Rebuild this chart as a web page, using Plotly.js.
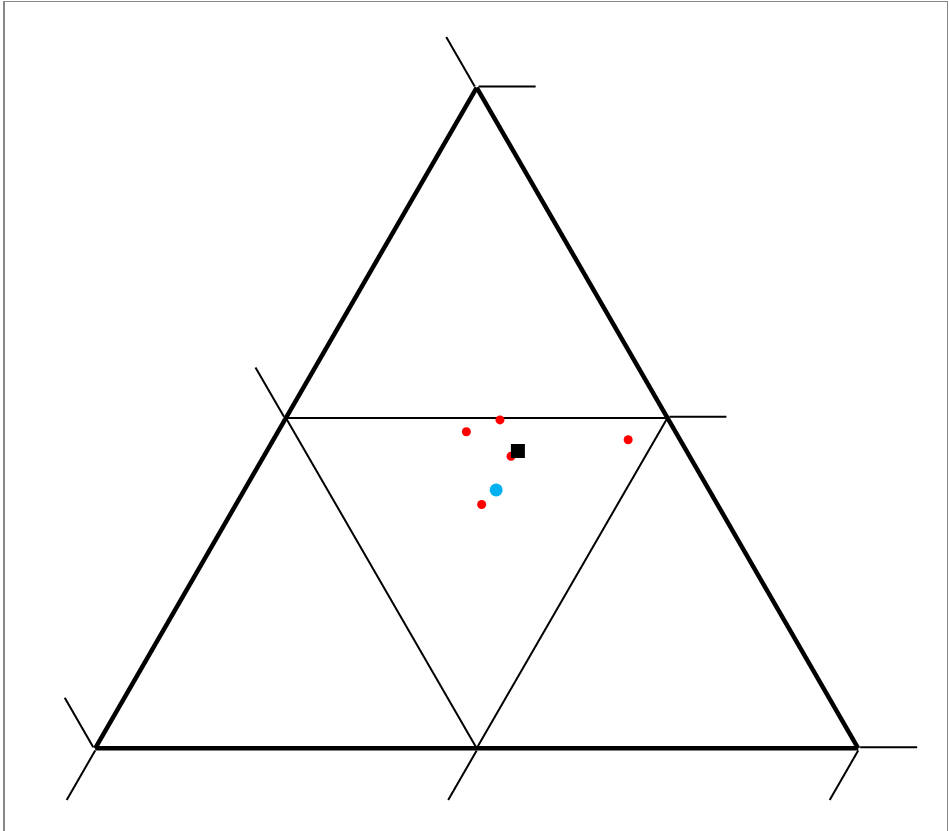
<!DOCTYPE html>
<html>
<head>
<meta charset="utf-8">
<script src="https://cdn.plot.ly/plotly-3.0.1.min.js"></script>
<style>
  body { margin: 0; background: #fff; }
  /* the reference has the tick "pinwheel" turning the other way round,
     so the ternary is drawn mirrored (b and c swapped in the data below) */
  #plot { position: absolute; left: 0; top: 0; width: 949px; height: 831px; transform: scaleX(-1); }
  #frame {
    position: absolute; left: 3px; top: 1px; width: 945px; height: 850px;
    box-sizing: border-box; pointer-events: none;
    border-left: 2px solid #888; border-top: 1px solid #888; border-right: 1px solid #888;
  }
</style>
</head>
<body>
<div id="plot"></div>
<div id="frame"></div>
<script>
// components: top, bottom-left, bottom-right corner as seen in the picture

// samples (red)
const sampleTop   = [0.479, 0.497, 0.467, 0.442, 0.369];
const sampleLeft  = [0.274, 0.221, 0.068, 0.234, 0.309];
const sampleRight = [0.247, 0.282, 0.465, 0.324, 0.322];

// mean point (black square)
const meanTop   = [0.450];
const meanLeft  = [0.221];
const meanRight = [0.329];

// reference point (blue)
const refTop   = [0.391];
const refLeft  = [0.279];
const refRight = [0.330];


function ternaryAxis() {
    return {
        min: 0,
        tick0: 0,
        dtick: 0.5,
        ticks: "outside",
        ticklen: 57,
        tickwidth: 2,
        tickcolor: "#000",
        showticklabels: false,
        showgrid: true,
        gridcolor: "#000",
        gridwidth: 2,
        showline: true,
        linecolor: "#000",
        linewidth: 4.5,
        title: {text: ""},
    };
}


function TernaryPlot(id) {
    const W = 949, H = 831;
    // triangle placement (pixels, before the mirror)
    const cx = W - 476.7, side = 763;
    const cy = 417.9, hbox = 700;

    // mirrored: plotly's b corner ends up bottom-right, c bottom-left
    let samples = {
        type: "scatterternary",
        mode: "markers",
        a: sampleTop, b: sampleRight, c: sampleLeft,
        marker: {color: "#ff0000", size: 9, symbol: "circle"},
        name: "samples",
    };
    let ref = {
        type: "scatterternary",
        mode: "markers",
        a: refTop, b: refRight, c: refLeft,
        marker: {color: "#00b0f0", size: 13, symbol: "circle"},
        name: "reference",
    };
    let mean = {
        type: "scatterternary",
        mode: "markers",
        a: meanTop, b: meanRight, c: meanLeft,
        marker: {color: "#000000", size: 14, symbol: "square"},
        name: "mean",
    };

    let layout = {
        width: W,
        height: H,
        showlegend: false,
        margin: {l: 0, r: 0, t: 0, b: 0},
        paper_bgcolor: "#fff",
        ternary: {
            sum: 1,
            bgcolor: "#fff",
            domain: {
                x: [(cx - side / 2) / W, (cx + side / 2) / W],
                y: [1 - (cy + hbox / 2) / H, 1 - (cy - hbox / 2) / H],
            },
            aaxis: ternaryAxis(),
            baxis: ternaryAxis(),
            caxis: ternaryAxis(),
        },
    };

    Plotly.newPlot(id, [samples, ref, mean], layout, {displayModeBar: false});
}


window.addEventListener('load', function () {
    TernaryPlot("plot");
})
</script>
</body>
</html>
